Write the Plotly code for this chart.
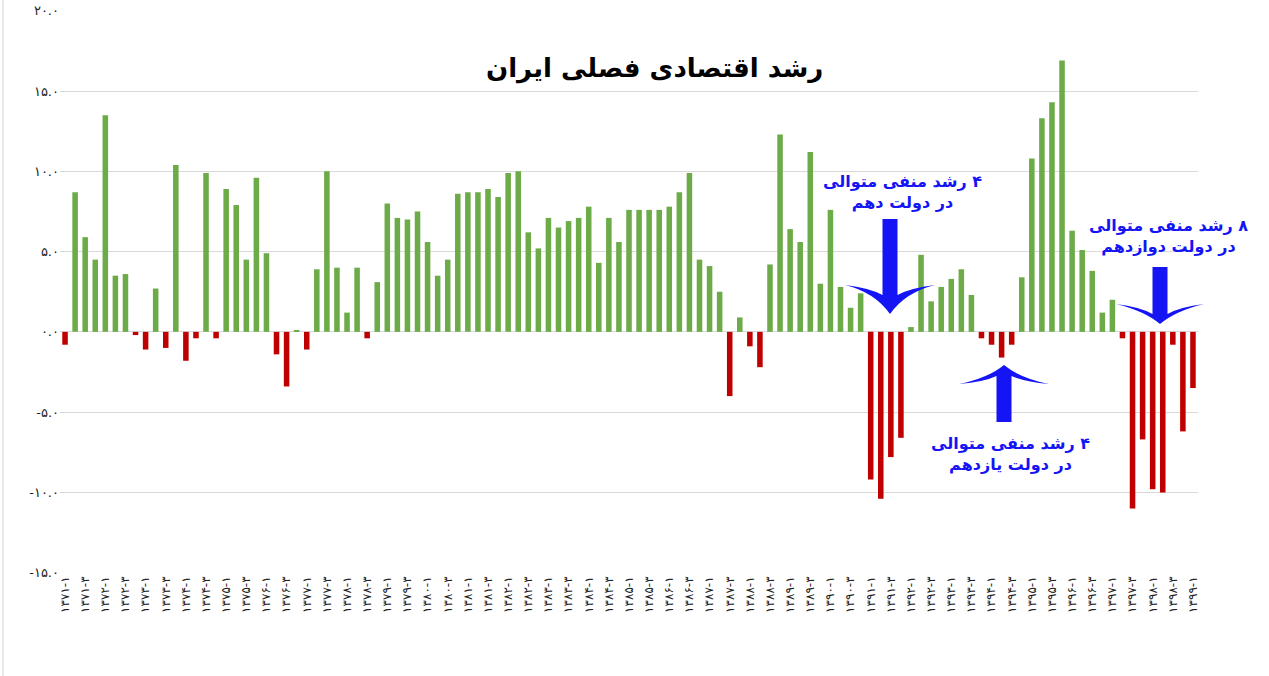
import plotly.graph_objects as go

years = list(range(1371, 1400))
fa_digits = str.maketrans("0123456789", "۰۱۲۳۴۵۶۷۸۹")

# quarters 1371-1 ... 1399-1
quarters = [f"{y}-{q}" for y in years for q in (1, 2, 3, 4)][:113]

growth = [
    -0.8, 8.7, 5.9, 4.5, 13.5, 3.5, 3.6, -0.2, -1.1, 2.7,
    -1.0, 10.4, -1.8, -0.4, 9.9, -0.4, 8.9, 7.9, 4.5, 9.6,
    4.9, -1.4, -3.4, 0.1, -1.1, 3.9, 10.0, 4.0, 1.2, 4.0,
    -0.4, 3.1, 8.0, 7.1, 7.0, 7.5, 5.6, 3.5, 4.5, 8.6,
    8.7, 8.7, 8.9, 8.4, 9.9, 10.0, 6.2, 5.2, 7.1, 6.5,
    6.9, 7.1, 7.8, 4.3, 7.1, 5.6, 7.6, 7.6, 7.6, 7.6,
    7.8, 8.7, 9.9, 4.5, 4.1, 2.5, -4.0, 0.9, -0.9, -2.2,
    4.2, 12.3, 6.4, 5.6, 11.2, 3.0, 7.6, 2.8, 1.5, 2.4,
    -9.2, -10.4, -7.8, -6.6, 0.3, 4.8, 1.9, 2.8, 3.3, 3.9,
    2.3, -0.4, -0.8, -1.6, -0.8, 3.4, 10.8, 13.3, 14.3, 16.9,
    6.3, 5.1, 3.8, 1.2, 2.0, -0.4, -11.0, -6.7, -9.8, -10.0,
    -0.8, -6.2, -3.5,
]

y_ticks = [-15, -10, -5, 0, 5, 10, 15, 20]
y_ticktext = [f"{v:.1f}".translate(fa_digits) for v in y_ticks]

RLM = "\u200f"
title_text = "رشد اقتصادی فصلی ایران"
notes = [
    ["۴ رشد منفی متوالی", "در دولت دهم"],
    ["۴ رشد منفی متوالی", "در دولت یازدهم"],
    ["۸ رشد منفی متوالی", "در دولت دوازدهم"],
]

GREEN = "#6cab48"
RED = "#c00000"
BLUE = "#1414f5"

idx = list(range(len(growth)))
colors = [GREEN if v >= 0 else RED for v in growth]
tick_idx = idx[::2]
tick_txt = [quarters[i].translate(fa_digits) for i in tick_idx]

fig = go.Figure()
fig.add_trace(go.Bar(
    x=idx, y=growth, width=0.55,
    marker=dict(color=colors, line=dict(width=0)),
    hoverinfo="x+y", showlegend=False,
))

# page geometry (pixels)
L, R, T, B = 60, 1198, 10, 573
W, H = 1269, 676


def px(xp, yp):
    return (xp - L) / (R - L), (B - yp) / (B - T)


def arrow_path(pts):
    out = []
    for cmd, *p in pts:
        if cmd in ("M", "L"):
            x, y = px(*p)
            out.append(f"{cmd}{x:.5f},{y:.5f}")
        elif cmd == "Q":
            x1, y1 = px(p[0], p[1])
            x2, y2 = px(p[2], p[3])
            out.append(f"Q{x1:.5f},{y1:.5f} {x2:.5f},{y2:.5f}")
    return " ".join(out) + " Z"


def down_arrow(cx, top, neck, half_shaft, half_head, tip):
    return arrow_path([
        ("M", cx - half_shaft, top),
        ("L", cx + half_shaft, top),
        ("L", cx + half_shaft, neck + 5),
        ("Q", cx + half_head * 0.45, neck - 2, cx + half_head, neck - 5),
        ("Q", cx + half_head * 0.35, neck + 2, cx, tip),
        ("Q", cx - half_head * 0.35, neck + 2, cx - half_head, neck - 5),
        ("Q", cx - half_head * 0.45, neck - 2, cx - half_shaft, neck + 5),
    ])


def up_arrow(cx, bottom, neck, half_shaft, half_head, tip):
    return arrow_path([
        ("M", cx - half_shaft, bottom),
        ("L", cx + half_shaft, bottom),
        ("L", cx + half_shaft, neck - 4),
        ("Q", cx + half_head * 0.45, neck + 2, cx + half_head, neck + 4),
        ("Q", cx + half_head * 0.35, neck - 2, cx, tip),
        ("Q", cx - half_head * 0.35, neck - 2, cx - half_head, neck + 4),
        ("Q", cx - half_head * 0.45, neck + 2, cx - half_shaft, neck - 4),
    ])


shapes = [
    dict(type="path", xref="paper", yref="paper",
         path=down_arrow(890, 219, 290, 7.5, 45, 314),
         fillcolor=BLUE, line=dict(width=0)),
    dict(type="path", xref="paper", yref="paper",
         path=down_arrow(1160, 267, 309, 7.5, 44, 324),
         fillcolor=BLUE, line=dict(width=0)),
    dict(type="path", xref="paper", yref="paper",
         path=up_arrow(1004, 422, 380, 7.5, 45, 365),
         fillcolor=BLUE, line=dict(width=0)),
    dict(type="line", xref="paper", yref="paper",
         x0=px(3, 0)[0], x1=px(3, 0)[0], y0=px(0, 0)[1], y1=px(0, 676)[1],
         line=dict(color="#d4d4d4", width=1)),
]


def note_text(lines):
    return "<br>".join("<b>" + RLM + ln + "</b>" for ln in lines)


ann_font = dict(family="DejaVu Sans", size=16, color=BLUE)
annotations = [
    dict(text="<b>" + title_text + "</b>", xref="paper", yref="paper",
         x=px(655, 68)[0], y=px(655, 68)[1], showarrow=False,
         font=dict(family="DejaVu Sans", size=26, color="#000000"),
         xanchor="center", yanchor="middle"),
    dict(text=note_text(notes[0]), xref="paper", yref="paper",
         x=px(902, 192)[0], y=px(902, 192)[1], showarrow=False,
         font=ann_font, xanchor="center", yanchor="middle", align="center"),
    dict(text=note_text(notes[1]), xref="paper", yref="paper",
         x=px(1010, 454)[0], y=px(1010, 454)[1], showarrow=False,
         font=ann_font, xanchor="center", yanchor="middle", align="center"),
    dict(text=note_text(notes[2]), xref="paper", yref="paper",
         x=px(1168, 236)[0], y=px(1168, 236)[1], showarrow=False,
         font=ann_font, xanchor="center", yanchor="middle", align="center"),
]

fig.update_layout(
    width=W, height=H,
    margin=dict(l=L, r=W - R, t=T, b=H - B, autoexpand=False),
    plot_bgcolor="white", paper_bgcolor="white",
    bargap=0.45,
    shapes=shapes,
    annotations=annotations,
    xaxis=dict(
        range=[-0.5, len(growth) - 0.5], automargin=False,
        tickmode="array", tickvals=tick_idx, ticktext=tick_txt,
        tickangle=-90, tickfont=dict(family="DejaVu Sans", size=12, color="#222222"),
        showgrid=False, zeroline=False, showline=False, ticks="",
    ),
    yaxis=dict(
        range=[-15.02, 20.05], automargin=False, ticklabeloverflow="allow",
        tickmode="array", tickvals=y_ticks, ticktext=y_ticktext,
        tickfont=dict(family="DejaVu Sans", size=13, color="#222222"),
        showgrid=True, gridcolor="#d9d9d9", gridwidth=1,
        zeroline=False, showline=False, ticks="",
    ),
)

fig.write_html(
    "out.html",
    config={"displayModeBar": False},
    post_script="document.body.style.margin='0';document.body.style.overflow='hidden';",
)
